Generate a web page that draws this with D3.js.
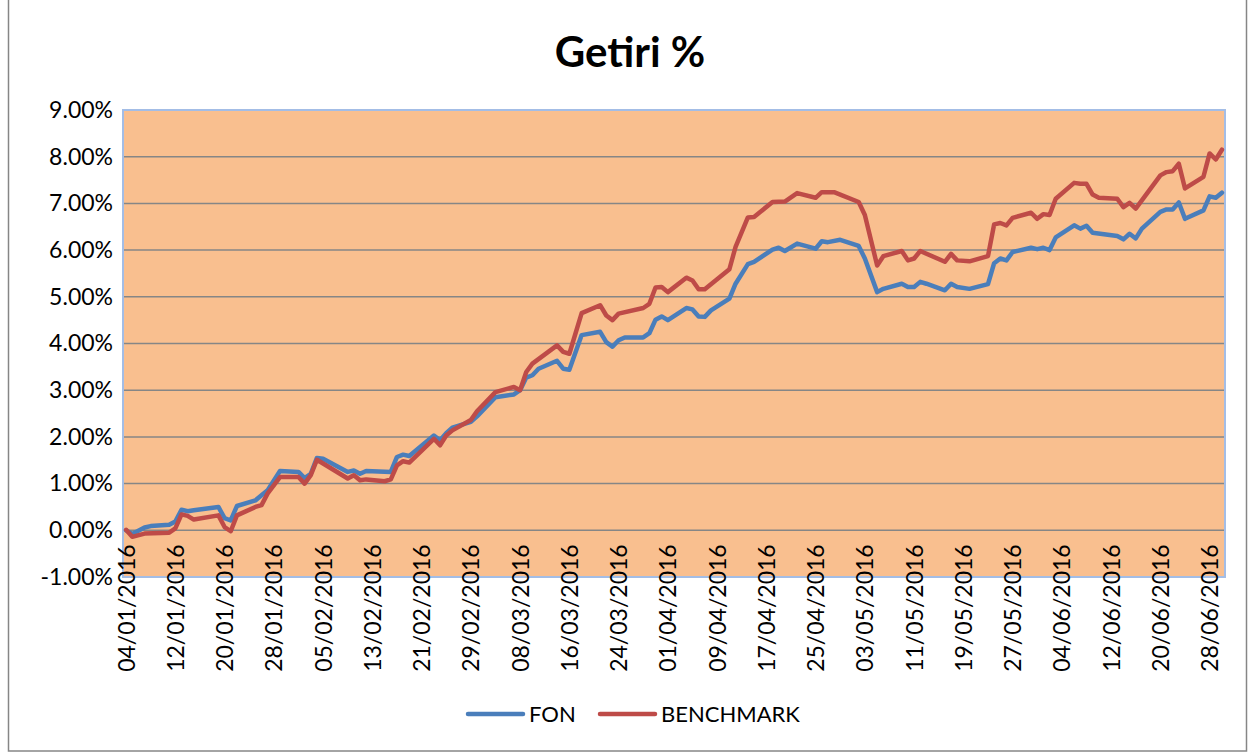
<!DOCTYPE html>
<html>
<head>
<meta charset="utf-8">
<script src="https://cdn.jsdelivr.net/npm/d3@7"></script>
<style>
  body { margin: 0; background: #fff; }
  text { font-family: Lato, "Open Sans", sans-serif; fill: #000; }
</style>
</head>
<body>
<div id="chart"></div>
<script>
// Tick labels and axis values
const xTickLabels = ["04/01/2016", "12/01/2016", "20/01/2016", "28/01/2016", "05/02/2016", "13/02/2016",
  "21/02/2016", "29/02/2016", "08/03/2016", "16/03/2016", "24/03/2016", "01/04/2016", "09/04/2016",
  "17/04/2016", "25/04/2016", "03/05/2016", "11/05/2016", "19/05/2016", "27/05/2016", "04/06/2016",
  "12/06/2016", "20/06/2016", "28/06/2016"];
const yTicks = [-1, 0, 1, 2, 3, 4, 5, 6, 7, 8, 9];
const firstDay = "04/01/2016";
const lastDay = "30/06/2016";

// FON series (dates, % return)
const fonDates = ["04/01/2016", "05/01/2016", "07/01/2016", "08/01/2016", "11/01/2016", "12/01/2016",
  "13/01/2016", "14/01/2016", "15/01/2016", "19/01/2016", "20/01/2016", "21/01/2016", "22/01/2016",
  "25/01/2016", "26/01/2016", "27/01/2016", "29/01/2016", "01/02/2016", "02/02/2016", "03/02/2016",
  "04/02/2016", "05/02/2016", "09/02/2016", "10/02/2016", "11/02/2016", "12/02/2016", "16/02/2016",
  "17/02/2016", "18/02/2016", "19/02/2016", "23/02/2016", "24/02/2016", "25/02/2016", "26/02/2016",
  "29/02/2016", "01/03/2016", "04/03/2016", "07/03/2016", "08/03/2016", "09/03/2016", "10/03/2016",
  "11/03/2016", "14/03/2016", "15/03/2016", "16/03/2016", "18/03/2016", "21/03/2016", "22/03/2016",
  "23/03/2016", "24/03/2016", "25/03/2016", "28/03/2016", "29/03/2016", "30/03/2016", "31/03/2016",
  "01/04/2016", "04/04/2016", "05/04/2016", "06/04/2016", "07/04/2016", "08/04/2016", "11/04/2016",
  "12/04/2016", "14/04/2016", "15/04/2016", "18/04/2016", "19/04/2016", "20/04/2016", "22/04/2016",
  "25/04/2016", "26/04/2016", "27/04/2016", "29/04/2016", "02/05/2016", "03/05/2016", "05/05/2016",
  "06/05/2016", "09/05/2016", "10/05/2016", "11/05/2016", "12/05/2016", "13/05/2016", "16/05/2016",
  "17/05/2016", "18/05/2016", "20/05/2016", "23/05/2016", "24/05/2016", "25/05/2016", "26/05/2016",
  "27/05/2016", "30/05/2016", "31/05/2016", "01/06/2016", "02/06/2016", "03/06/2016", "06/06/2016",
  "07/06/2016", "08/06/2016", "09/06/2016", "13/06/2016", "14/06/2016", "15/06/2016", "16/06/2016",
  "17/06/2016", "20/06/2016", "21/06/2016", "22/06/2016", "23/06/2016", "24/06/2016", "27/06/2016",
  "28/06/2016", "29/06/2016", "30/06/2016"];
const fonValues = [0.00, -0.08, 0.06, 0.09, 0.12, 0.19,
  0.44, 0.41, 0.43, 0.50, 0.26, 0.21, 0.52,
  0.64, 0.75, 0.86, 1.27, 1.25, 1.12, 1.21,
  1.55, 1.53, 1.25, 1.28, 1.21, 1.27, 1.25,
  1.57, 1.62, 1.59, 2.03, 1.93, 2.08, 2.20,
  2.32, 2.44, 2.85, 2.91, 3.00, 3.27, 3.32,
  3.46, 3.63, 3.46, 3.44, 4.18, 4.25, 4.03,
  3.93, 4.07, 4.13, 4.13, 4.22, 4.51, 4.58,
  4.50, 4.76, 4.73, 4.58, 4.57, 4.71, 4.96,
  5.28, 5.70, 5.75, 6.01, 6.05, 5.98, 6.14,
  6.03, 6.19, 6.17, 6.22, 6.09, 5.82, 5.10,
  5.17, 5.28, 5.21, 5.21, 5.32, 5.28, 5.14,
  5.28, 5.21, 5.17, 5.27, 5.72, 5.82, 5.78,
  5.96, 6.05, 6.02, 6.05, 6.00, 6.27, 6.53,
  6.46, 6.52, 6.37, 6.30, 6.23, 6.35, 6.25,
  6.46, 6.82, 6.87, 6.87, 7.02, 6.67, 6.85,
  7.15, 7.12, 7.23];

// BENCHMARK series
const benchDates = ["04/01/2016", "05/01/2016", "07/01/2016", "11/01/2016", "12/01/2016", "13/01/2016",
  "14/01/2016", "15/01/2016", "19/01/2016", "20/01/2016", "21/01/2016", "22/01/2016", "25/01/2016",
  "26/01/2016", "27/01/2016", "29/01/2016", "01/02/2016", "02/02/2016", "03/02/2016", "04/02/2016",
  "09/02/2016", "10/02/2016", "11/02/2016", "12/02/2016", "15/02/2016", "16/02/2016", "17/02/2016",
  "18/02/2016", "19/02/2016", "23/02/2016", "24/02/2016", "25/02/2016", "26/02/2016", "29/02/2016",
  "01/03/2016", "04/03/2016", "07/03/2016", "08/03/2016", "09/03/2016", "10/03/2016", "14/03/2016",
  "15/03/2016", "16/03/2016", "18/03/2016", "21/03/2016", "22/03/2016", "23/03/2016", "24/03/2016",
  "28/03/2016", "29/03/2016", "30/03/2016", "31/03/2016", "01/04/2016", "04/04/2016", "05/04/2016",
  "06/04/2016", "07/04/2016", "11/04/2016", "12/04/2016", "14/04/2016", "15/04/2016", "18/04/2016",
  "20/04/2016", "22/04/2016", "25/04/2016", "26/04/2016", "28/04/2016", "29/04/2016", "02/05/2016",
  "03/05/2016", "05/05/2016", "06/05/2016", "09/05/2016", "10/05/2016", "11/05/2016", "12/05/2016",
  "16/05/2016", "17/05/2016", "18/05/2016", "20/05/2016", "23/05/2016", "24/05/2016", "25/05/2016",
  "26/05/2016", "27/05/2016", "30/05/2016", "31/05/2016", "01/06/2016", "02/06/2016", "03/06/2016",
  "06/06/2016", "07/06/2016", "08/06/2016", "09/06/2016", "10/06/2016", "13/06/2016", "14/06/2016",
  "15/06/2016", "16/06/2016", "20/06/2016", "21/06/2016", "22/06/2016", "23/06/2016", "24/06/2016",
  "27/06/2016", "28/06/2016", "29/06/2016", "30/06/2016"];
const benchValues = [0.01, -0.14, -0.07, -0.05, 0.04, 0.34,
  0.31, 0.23, 0.32, 0.07, -0.02, 0.32, 0.50,
  0.54, 0.79, 1.14, 1.14, 1.00, 1.18, 1.51,
  1.11, 1.18, 1.07, 1.09, 1.05, 1.09, 1.39,
  1.48, 1.45, 1.96, 1.82, 2.03, 2.14, 2.36,
  2.55, 2.96, 3.07, 3.00, 3.39, 3.57, 3.96,
  3.82, 3.78, 4.65, 4.82, 4.60, 4.50, 4.64,
  4.76, 4.85, 5.20, 5.21, 5.10, 5.41, 5.35,
  5.16, 5.16, 5.59, 6.07, 6.70, 6.71, 7.03,
  7.04, 7.22, 7.12, 7.24, 7.24, 7.19, 7.03,
  6.75, 5.67, 5.87, 5.98, 5.78, 5.82, 5.98,
  5.75, 5.92, 5.78, 5.76, 5.87, 6.55, 6.58,
  6.53, 6.69, 6.80, 6.67, 6.77, 6.75, 7.10,
  7.44, 7.42, 7.42, 7.19, 7.12, 7.10, 6.92,
  7.01, 6.89, 7.60, 7.67, 7.69, 7.85, 7.32,
  7.57, 8.07, 7.94, 8.15];

const parseDate = d3.utcParse("%d/%m/%Y");
const fon = fonDates.map((d, i) => ({ date: parseDate(d), value: fonValues[i] }));
const bench = benchDates.map((d, i) => ({ date: parseDate(d), value: benchValues[i] }));

const W = 1253, H = 755;
const plot = { left: 123, right: 1225, top: 110, bottom: 577 };

const svg = d3.select("#chart")
  .append("svg")
  .attr("width", W)
  .attr("height", H);

// outer chart frame
svg.append("rect")
  .attr("x", 8.5).attr("y", -2)
  .attr("width", 1238).attr("height", 753)
  .attr("fill", "#fff")
  .attr("stroke", "#868686")
  .attr("stroke-width", 1.5);

// each day gets a slot, the point sits in the middle of it (Excel date axis)
const x = d3.scaleUtc()
  .domain([d3.utcHour.offset(parseDate(firstDay), -12), d3.utcHour.offset(parseDate(lastDay), 12)])
  .range([plot.left, plot.right]);

const y = d3.scaleLinear()
  .domain([-1, 9])
  .range([plot.bottom, plot.top]);

// plot area
svg.append("rect")
  .attr("x", plot.left).attr("y", plot.top)
  .attr("width", plot.right - plot.left)
  .attr("height", plot.bottom - plot.top)
  .attr("fill", "#F9BF8F");

// gridlines
svg.append("g")
  .selectAll("line")
  .data(yTicks.filter(t => t > -1 && t < 9))
  .enter().append("line")
  .attr("x1", plot.left).attr("x2", plot.right)
  .attr("y1", d => y(d)).attr("y2", d => y(d))
  .attr("stroke", "#868686")
  .attr("stroke-width", 1.5);

svg.append("rect")
  .attr("x", plot.left).attr("y", plot.top)
  .attr("width", plot.right - plot.left)
  .attr("height", plot.bottom - plot.top)
  .attr("fill", "none")
  .attr("stroke", "#A3BDE6")
  .attr("stroke-width", 2);

// y axis
const yAxis = svg.append("g")
  .attr("transform", `translate(${plot.left},0)`)
  .call(d3.axisLeft(y).tickValues(yTicks).tickSize(0).tickPadding(10)
    .tickFormat(d => d.toFixed(2) + "%"));
yAxis.select(".domain").remove();
yAxis.selectAll("text")
  .attr("font-size", 23)
  .attr("font-family", "Lato")
  .attr("fill", "#000");

// x axis sits on the 0% line, labels rotated
const xAxis = svg.append("g")
  .attr("transform", `translate(0,${y(0)})`)
  .call(d3.axisBottom(x).tickValues(xTickLabels.map(parseDate)).tickSize(0)
    .tickFormat((d, i) => xTickLabels[i]));
xAxis.select(".domain").remove();
xAxis.selectAll("text")
  .attr("font-size", 23)
  .attr("font-family", "Lato")
  .attr("fill", "#000")
  .attr("text-anchor", "end")
  .attr("transform", "rotate(-90)")
  .attr("x", -14)
  .attr("y", 0)
  .attr("dy", "0.35em");

// lines
const line = d3.line()
  .x(d => x(d.date))
  .y(d => y(d.value));

svg.append("path")
  .datum(fon)
  .attr("d", line)
  .attr("fill", "none")
  .attr("stroke", "#4A7EBB")
  .attr("stroke-width", 4.5)
  .attr("stroke-linejoin", "round")
  .attr("stroke-linecap", "round");

svg.append("path")
  .datum(bench)
  .attr("d", line)
  .attr("fill", "none")
  .attr("stroke", "#BE4B48")
  .attr("stroke-width", 4.5)
  .attr("stroke-linejoin", "round")
  .attr("stroke-linecap", "round");

// title
svg.append("text")
  .attr("x", 630).attr("y", 67)
  .attr("text-anchor", "middle")
  .attr("font-size", 42)
  .attr("font-weight", "bold")
  .text("Getiri %");

// legend
const legend = [
  { name: "FON", color: "#4A7EBB", x: 468 },
  { name: "BENCHMARK", color: "#BE4B48", x: 600 }
];
const lg = svg.append("g");
lg.selectAll("line")
  .data(legend)
  .enter().append("line")
  .attr("x1", d => d.x).attr("x2", d => d.x + 55)
  .attr("y1", 714).attr("y2", 714)
  .attr("stroke", d => d.color)
  .attr("stroke-width", 4.5)
  .attr("stroke-linecap", "round");
lg.selectAll("text")
  .data(legend)
  .enter().append("text")
  .attr("x", d => d.x + 61)
  .attr("y", 722)
  .attr("font-size", 22)
  .text(d => d.name);
</script>
</body>
</html>
